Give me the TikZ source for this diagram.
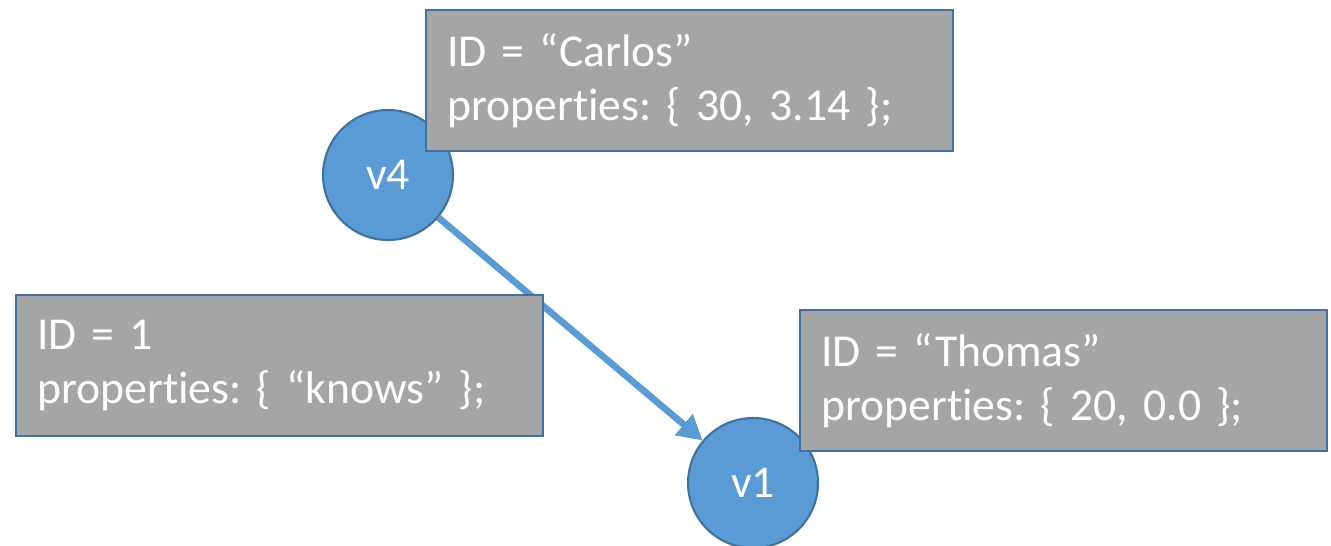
\documentclass[tikz,border=0pt]{standalone}
\usepackage{fontspec}
\setmainfont[Ligatures={NoCommon}]{Carlito}
\frenchspacing
\usetikzlibrary{arrows.meta}
\definecolor{vfill}{HTML}{5B9BD5}
\definecolor{vline}{HTML}{41719C}
\definecolor{boxfill}{HTML}{A5A5A5}
\begin{document}
\begin{tikzpicture}[x=0.02cm, y=-0.02cm,
		vertex/.style={circle, draw=vline, fill=vfill, line width=1.2pt, minimum size=2.6cm, inner sep=0pt, text=white, font=\fontsize{26}{30}\selectfont},
		infobox/.style={rectangle, draw=vline, fill=boxfill, line width=1.3pt, anchor=north west, text width=9.7cm, inner xsep=0.42cm, minimum height=2.82cm, align=left, text=white, font=\fontsize{26}{31}\selectfont},
		edge/.style={draw=vfill, line width=3.8pt, -{Triangle[length=14pt, width=15pt]}}]
		\useasboundingbox (0, 0) rectangle (1331, 545);
		% vertices
		\node[vertex] (v4) at (388, 175) {v4};
		\node[vertex] (v1) at (753, 483) {v1};
		% edge
		\draw[edge] (v4) -- (v1);
		% property boxes
		\node[infobox] (carlos) at (425, 9) {ID = “Carlos”\\properties: \{ 30, 3.14 \};};
		\node[infobox] (knows) at (15, 294) {ID = 1\\properties: \{ “knows” \};};
		\node[infobox] (thomas) at (799, 309) {ID = “Thomas”\\properties: \{ 20, 0.0 \};};
	\end{tikzpicture}
\end{document}
